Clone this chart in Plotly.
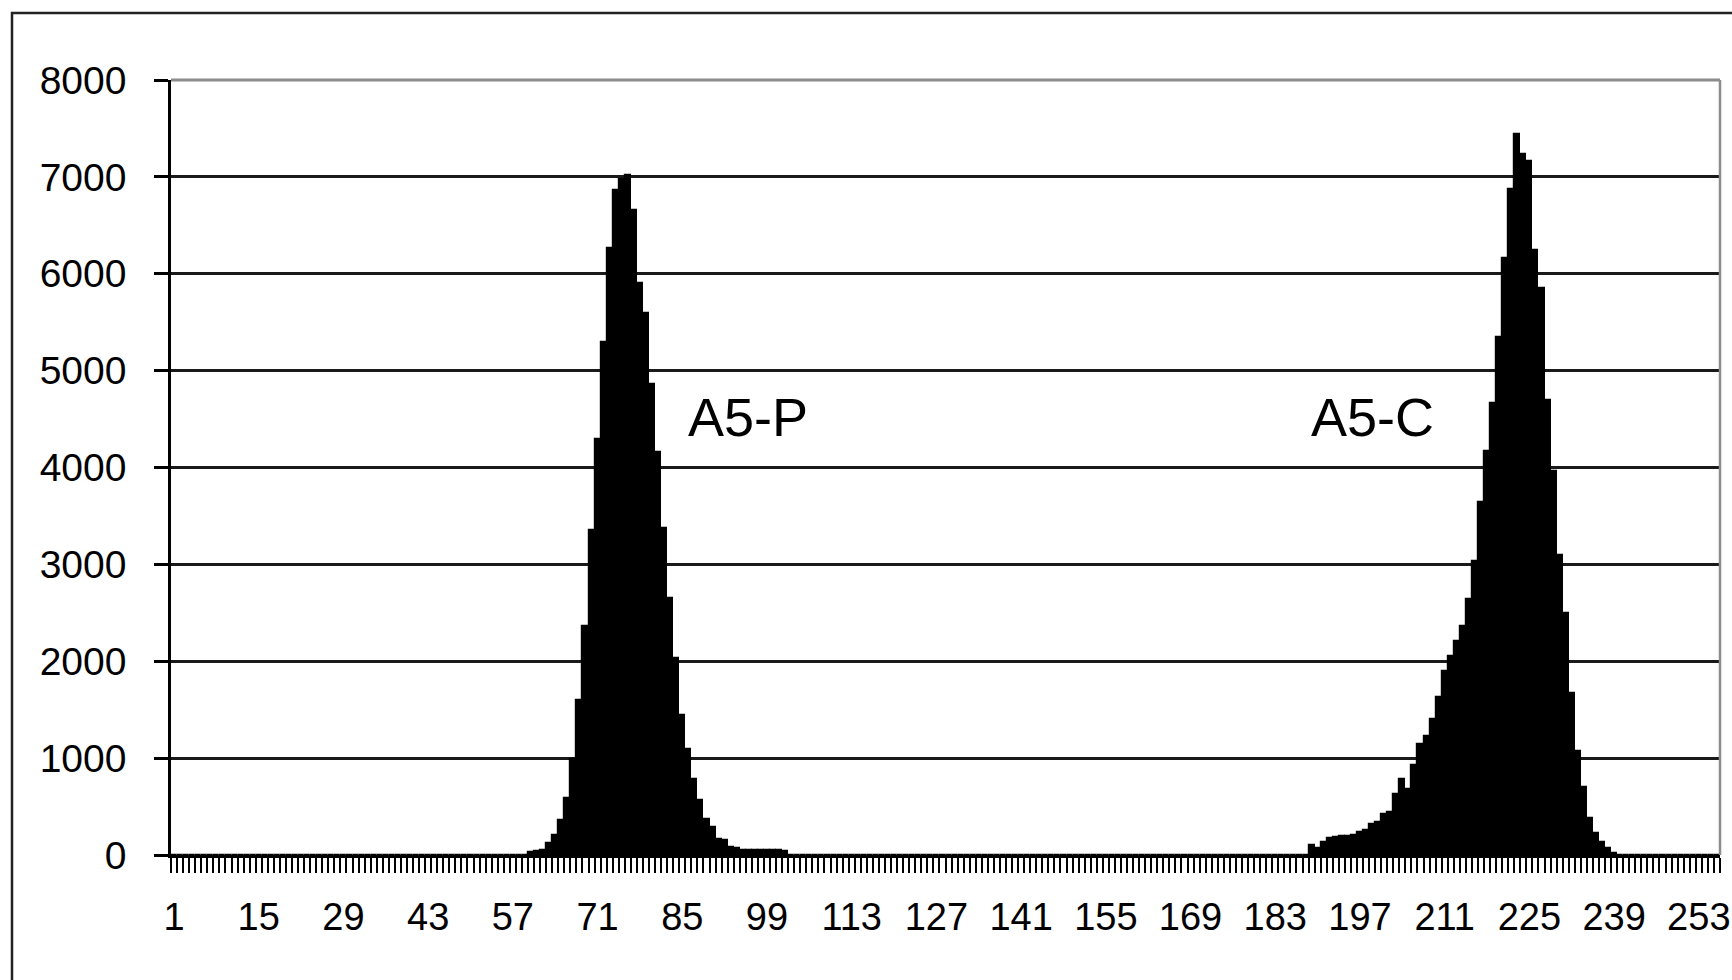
import plotly.graph_objects as go

# ---- data ----
n_bins = 256
bins = list(range(1, n_bins + 1))

peak_p_start = 60
peak_p_counts = [30, 40, 50, 120, 210, 360, 590, 990, 1600, 2360,
                 3350, 4290, 5300, 6270, 6860, 6980, 7020, 6660, 5900, 5600,
                 4860, 4160, 3380, 2650, 2030, 1450, 1090, 780, 570, 370,
                 290, 170, 150, 80, 70, 50, 50, 50, 50, 50, 50, 50, 40]

peak_c_start = 189
peak_c_counts = [100, 75, 130, 175, 185, 195, 200, 205, 240, 260,
                 320, 340, 425, 440, 630, 780, 680, 930, 1150, 1230,
                 1400, 1630, 1900, 2050, 2210, 2360, 2640, 3040, 3640, 4170,
                 4670, 5350, 6160, 6880, 7440, 7240, 7160, 6250, 5850, 4700,
                 3960, 3100, 2500, 1670, 1070, 700, 380, 230, 130, 70, 20]

x_tick_vals = [1, 15, 29, 43, 57, 71, 85, 99, 113, 127, 141, 155, 169, 183,
               197, 211, 225, 239, 253]
x_tick_text = [str(v) for v in x_tick_vals]
y_tick_vals = [0, 1000, 2000, 3000, 4000, 5000, 6000, 7000, 8000]

labels = ["A5-P", "A5-C"]
label_x = [85.6, 188.5]
label_y = [4520, 4520]

counts = [0] * n_bins
for i, v in enumerate(peak_p_counts):
    counts[peak_p_start - 1 + i] = v
for i, v in enumerate(peak_c_counts):
    counts[peak_c_start - 1 + i] = v

# ---- figure ----
FONT = "Liberation Sans, Arial, sans-serif"
fig = go.Figure()
fig.add_trace(go.Bar(
    x=bins, y=counts,
    marker=dict(color="black", line=dict(color="black", width=1.2)),
    width=1.0,
    hoverinfo="x+y",
))

for t, xv, yv in zip(labels, label_x, label_y):
    fig.add_annotation(x=xv, y=yv, text=t, showarrow=False, xanchor="left",
                       yanchor="middle",
                       font=dict(family=FONT, size=54, color="black"))

L, R, T, B = 171, 12, 80, 125
W, H = 1732, 980
pw = W - L - R
ph = H - T - B

fig.update_layout(
    width=W, height=H,
    margin=dict(l=L, r=R, t=T, b=B, pad=0, autoexpand=False),
    paper_bgcolor="white", plot_bgcolor="white",
    showlegend=False, bargap=0,
    font=dict(family=FONT, color="black"),
    xaxis=dict(
        type="linear", range=[0.5, n_bins + 0.5], automargin=False,
        tickmode="array", tickvals=x_tick_vals, ticktext=x_tick_text,
        ticks="", showgrid=False, zeroline=False,
        showline=True, linecolor="black", linewidth=2.5,
        tickfont=dict(family=FONT, size=38, color="black"),
        ticklabelstandoff=27,
        minor=dict(ticks="outside", ticklen=15, tickwidth=1.8,
                   tickcolor="black", tick0=0.5, dtick=1, showgrid=False),
    ),
    yaxis=dict(
        range=[0, 8000], tickmode="array", tickvals=y_tick_vals,
        automargin=False,
        ticks="outside", ticklen=14, tickwidth=2.5, tickcolor="black",
        showgrid=True, gridcolor="#1a1a1a", gridwidth=2.5,
        zeroline=False, showline=True, linecolor="black", linewidth=2.5,
        tickfont=dict(family=FONT, size=39, color="black"),
        ticklabelstandoff=20,
    ),
)

# plot-area border (top and right, grey)
fig.add_shape(type="line", xref="paper", yref="paper", x0=0, x1=1, y0=1, y1=1,
              line=dict(color="#8c8c8c", width=3), layer="above")
fig.add_shape(type="line", xref="paper", yref="paper", x0=1, x1=1, y0=0, y1=1,
              line=dict(color="#8c8c8c", width=2.5), layer="above")

# outer chart frame (left and top edges visible, rest beyond image)
fx0 = (12 - L) / pw
fy1 = (H - B - 13) / ph
fig.add_shape(type="rect", xref="paper", yref="paper",
              x0=fx0, x1=1.2, y0=-0.5, y1=fy1,
              line=dict(color="#222222", width=2.5), layer="above")

fig.write_html(
    "out.html",
    config={"displayModeBar": False},
    post_script="document.body.style.margin='0';document.body.style.overflow='hidden';",
)
